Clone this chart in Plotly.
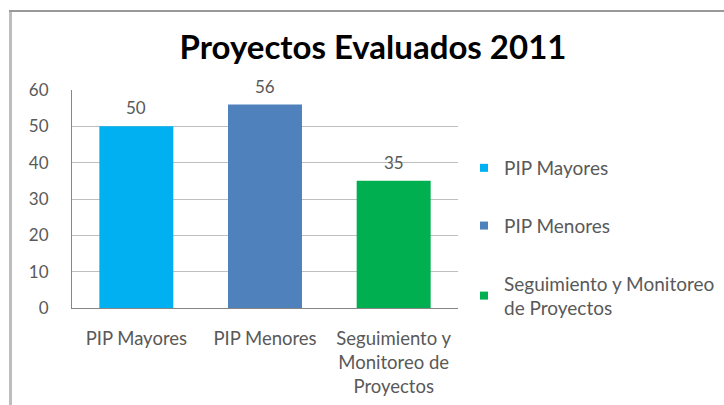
import plotly.graph_objects as go

categories = ["PIP Mayores", "PIP Menores", "Seguimiento y Monitoreo de Proyectos"]
axis_labels = ["PIP Mayores", "PIP Menores", "Seguimiento y<br>Monitoreo de<br>Proyectos"]
legend_labels = ["PIP Mayores", "PIP Menores", "Seguimiento y Monitoreo<br>de Proyectos"]
values = [50, 56, 35]
colors = ["#00B0F0", "#4F81BD", "#00B050"]
y_ticks = [0, 10, 20, 30, 40, 50, 60]

FONT = "Lato, 'Open Sans', sans-serif"
GRAY = "#595959"
FS = 17
fig = go.Figure()
for i in range(len(categories)):
    fig.add_trace(go.Bar(
        x=[axis_labels[i]], y=[values[i]], name=legend_labels[i],
        marker=dict(color=colors[i], line=dict(width=0)),
        width=0.575, showlegend=False,
    ))
    fig.add_annotation(x=axis_labels[i], y=values[i], text=str(values[i]),
                       showarrow=False, yanchor="bottom", yshift=6,
                       font=dict(size=FS, color=GRAY, family=FONT))
for i in range(len(categories)):
    fig.add_trace(go.Scatter(
        x=[None], y=[None], mode="markers", name=legend_labels[i],
        marker=dict(symbol="square", size=8, color=colors[i]),
        legendgroup=str(i), showlegend=True,
    ))

L, R, T, B = 72, 458, 90, 308
W, H = 724, 405
fig.update_layout(
    width=W, height=H,
    margin=dict(l=L, r=W - R, t=T, b=H - B, autoexpand=False),
    paper_bgcolor="white", plot_bgcolor="white",
    barmode="overlay",
    font=dict(family=FONT, color=GRAY, size=FS),
    title=dict(text="<b>Proyectos Evaluados 2011</b>", x=373 / W, xanchor="center",
               y=1 - 47 / H, yanchor="middle",
               font=dict(size=33, color="#000000", family=FONT)),
    xaxis=dict(categoryorder="array", categoryarray=axis_labels,
               showline=True, linecolor="#868686", linewidth=1,
               tickfont=dict(size=18.5, color=GRAY), ticks="", showgrid=False,
               range=[-0.5, 2.5], ticklabelstandoff=14, automargin=False),
    yaxis=dict(range=[0, 60], tickvals=y_ticks, showline=True, linecolor="#868686",
               linewidth=1, showgrid=True, gridcolor="#BFBFBF", gridwidth=1,
               tickfont=dict(size=FS, color=GRAY), ticks="",
               zeroline=False, ticklabelstandoff=19, automargin=False),
    legend=dict(x=(464 - L) / (R - L), xanchor="left", y=(B - 238) / (B - T), yanchor="middle",
                traceorder="grouped", tracegroupgap=30,
                font=dict(size=19, color=GRAY, family=FONT),
                itemwidth=30, bgcolor="rgba(0,0,0,0)"),
    showlegend=True,
)
def px_x(p):
    return (p - L) / (R - L)
def px_y(p):
    return (B - p) / (B - T)
# chart frame: top edge and left edge (thin filled strips)
fig.add_shape(type="rect", xref="paper", yref="paper",
              x0=px_x(9), x1=px_x(730), y0=px_y(12), y1=px_y(10),
              line=dict(width=0), fillcolor="#999999", layer="above")
fig.add_shape(type="rect", xref="paper", yref="paper",
              x0=px_x(9), x1=px_x(12), y0=px_y(410), y1=px_y(10),
              line=dict(width=0), fillcolor="#BDBDBD", layer="above")
post = (
    "document.body.style.margin='0px';"
    "var d=document.createElement('div');"
    "d.style.cssText='position:absolute;left:9px;top:10px;width:715px;height:2px;background:#999999;z-index:10;pointer-events:none';"
    "document.body.appendChild(d);"
)
fig.write_html("out.html", config={"displayModeBar": False}, post_script=post)
